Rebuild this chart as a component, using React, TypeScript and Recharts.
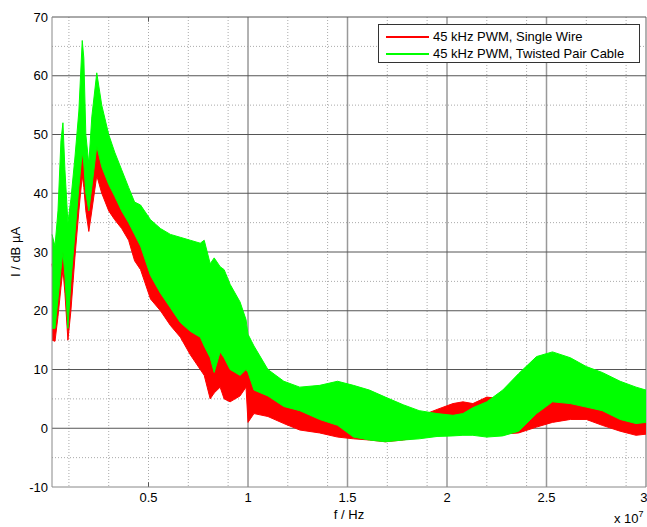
import { AreaChart, Area, XAxis, YAxis, CartesianGrid, Legend, Label, ReferenceLine } from "recharts"

// frequency in MHz, levels in dB µA (lower / upper edge of the noisy trace)
const freqMHz = [
  0.15, 0.3, 0.45, 0.6, 0.7, 0.8, 0.95, 1.1, 1.3, 1.5, 1.67, 1.75, 1.85, 2.0, 2.15, 2.4, 2.65,
  3.0, 3.3, 3.65, 4.0, 4.3, 4.6, 5.1, 5.6, 6.1, 6.6, 7.1, 7.6, 7.8, 8.1, 8.3, 8.6, 8.8, 9.1, 9.6,
  9.9, 10.0, 10.3, 11.0, 11.8, 12.6, 13.6, 14.5, 15.3, 16.1, 16.9, 17.8, 18.6, 19.5, 20.3,
  20.8, 21.3, 22.0, 22.8, 23.6, 24.5, 25.3, 26.2, 27.0, 27.8, 28.7, 29.5, 30.0,
]

const singleLo = [
  15, 14.8, 19, 24, 27, 23, 15, 20, 29, 37, 43, 41, 37, 33.5, 37, 43, 40,
  37, 35.5, 34, 32, 28.5, 27, 22, 20, 17.5, 15.5, 12.5, 10, 9, 5, 6, 7, 5, 4.5, 5.5,
  7, 1, 2.5, 2, 0.8, -0.3, -0.8, -1.5, -1.8, -2, -2.3, -2, -1.5, -1.2, -1,
  -1, -1, -1.2, -1, -0.8, 0.2, 1, 1.5, 1.5, 0.5, -0.5, -1.2, -1,
]
const singleHi = [
  28, 24, 28, 32, 34, 30, 24, 30, 37, 45, 51, 48, 44, 40, 45, 49.5, 47,
  44, 41, 39, 37, 35, 33, 28, 25, 22, 20, 18, 17, 16, 13, 11, 13.5, 12, 11, 10,
  11, 10, 7, 6, 5, 4, 2.5, 2, 1.5, 1, 0.5, 1, 2, 3.2, 4.2,
  4.5, 4.2, 5.3, 5, 2, 3.1, 4.8, 5, 4.2, 3.5, 2, 1.2, 1.5,
]

const twistedLo = [
  17, 17, 22, 27, 30, 26, 17, 25, 33, 41, 47, 45, 40, 37, 41, 48, 44.5,
  41.5, 39.5, 37, 35, 33, 31, 26, 23, 20.5, 18, 16.5, 15.5, 14, 12, 9.5, 13, 12, 10, 9,
  10, 9.5, 6.5, 5.5, 3.7, 3, 1.5, 0.5, -1.5, -2, -2.3, -2, -1.8, -1.4, -1.3,
  -1.2, -1.2, -1.5, -1.3, -0.5, 2.5, 4.5, 4.2, 3.6, 3, 1.5, 0.8, 1,
]
const twistedHi = [
  33, 31, 37, 49, 52, 44, 35, 39, 46, 54, 66, 63, 50, 45, 53, 60.5, 55,
  50, 47, 44, 41, 38.5, 38, 35.5, 34, 33, 32.5, 32, 31.5, 32, 28, 29, 27.5, 27, 24.5, 21.5,
  18.5, 16, 14, 10, 8, 7, 7.3, 8, 7.3, 6.5, 5.3, 4, 3, 2.5, 2.2,
  2.5, 3.5, 4.5, 6.5, 9.3, 12.2, 13, 12, 10.5, 9.5, 8, 7, 6.5,
]

const seriesNames = ["45 kHz PWM, Single Wire", "45 kHz PWM, Twisted Pair Cable"]
const seriesColors = ["#ff0000", "#00ff00"]

const xTicks = [5, 10, 15, 20, 25, 30]
const yTicks = [-10, 0, 10, 20, 30, 40, 50, 60, 70]
const xMinor = [1, 2, 3, 4, 5, 6, 7, 8, 9, 11, 12, 13, 14, 16, 17, 18, 19, 21, 22, 23, 24, 26, 27, 28, 29]
const yMinor = [-5, 5, 15, 25, 35, 45, 55, 65]

const rows = freqMHz.map((f, i) => ({
  f,
  single: [singleLo[i], singleHi[i]],
  twisted: [twistedLo[i], twistedHi[i]],
}))

const font = "'Liberation Sans', Arial, sans-serif"

function LegendBox() {
  return (
    <div
      style={{
        width: 262,
        height: 39,
        border: "1px solid #333",
        background: "#fff",
        fontFamily: font,
        fontSize: 13,
        color: "#000",
        boxSizing: "border-box",
        paddingTop: 3,
      }}
    >
      {seriesNames.map((name, i) => (
        <div key={name} style={{ display: "flex", alignItems: "center", height: 17 }}>
          <span style={{ display: "inline-block", width: 43, height: 2, background: seriesColors[i], marginLeft: 7, marginRight: 4 }} />
          <span>{name}</span>
        </div>
      ))}
    </div>
  )
}

export default function App() {
  return (
    <div style={{ width: 647, height: 527, background: "#fff", overflow: "hidden" }}>
      <style>{`body{margin:0}`}</style>
      <AreaChart width={647} height={527} data={rows} margin={{ top: 17, right: 1, bottom: 0, left: 0 }}>
        <CartesianGrid
          stroke="#aaa"
          strokeDasharray="1 2"
          verticalValues={xMinor}
          horizontalValues={yMinor}
        />
        <CartesianGrid stroke="#999" strokeWidth={1.5} horizontal={false} verticalValues={[10, 15, 20, 25, 30]} />
        <CartesianGrid stroke="#555" vertical={false} horizontalValues={[0, 10, 20, 30, 40, 50, 60, 70]} />
        <XAxis
          dataKey="f"
          type="number"
          domain={[0.15, 30]}
          ticks={xTicks}
          tickFormatter={(v: number) => String(v / 10)}
          tick={{ fontSize: 13, fill: "#000", fontFamily: font }}
          tickSize={0}
          tickMargin={6}
          axisLine={{ stroke: "#888" }}
          height={40}
        >
          <Label value="f / Hz" position="insideBottom" offset={8} style={{ fontSize: 13, fill: "#000", fontFamily: font }} />
          <Label
            content={() => (
              <text x={614} y={523} fontSize={13} fontFamily={font} fill="#000">
                x 10<tspan dy={-6} fontSize={9}>7</tspan>
              </text>
            )}
          />
        </XAxis>
        <YAxis
          type="number"
          domain={[-10, 70]}
          ticks={yTicks}
          tick={{ fontSize: 13, fill: "#000", fontFamily: font }}
          tickSize={0}
          tickMargin={4}
          axisLine={{ stroke: "#888" }}
          width={52}
        >
          <Label
            value="I / dB µA"
            angle={-90}
            position="insideLeft"
            offset={15}
            style={{ fontSize: 13, fill: "#000", fontFamily: font, textAnchor: "middle" }}
          />
        </YAxis>
        {/* inward tick at 0.5 on bottom and top edges */}
        <ReferenceLine segment={[{ x: 5, y: -10 }, { x: 5, y: -9.2 }]} stroke="#555" />
        <ReferenceLine segment={[{ x: 5, y: 70 }, { x: 5, y: 69.2 }]} stroke="#555" />
        <Area
          type="linear"
          dataKey="single"
          stroke={seriesColors[0]}
          fill={seriesColors[0]}
          fillOpacity={1}
          strokeWidth={1}
          dot={false}
          activeDot={false}
          isAnimationActive={false}
        />
        <Area
          type="linear"
          dataKey="twisted"
          stroke={seriesColors[1]}
          fill={seriesColors[1]}
          fillOpacity={1}
          strokeWidth={1}
          dot={false}
          activeDot={false}
          isAnimationActive={false}
        />
        <Legend
          layout="horizontal"
          verticalAlign="middle"
          wrapperStyle={{ top: 24, left: 378, width: 262 }}
          content={() => <LegendBox />}
        />
      </AreaChart>
    </div>
  )
}
